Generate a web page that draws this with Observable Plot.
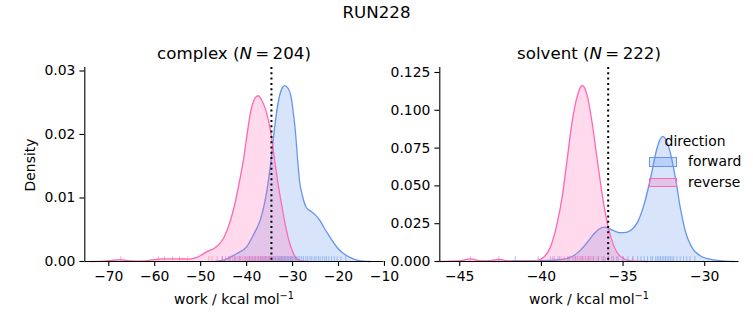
<!DOCTYPE html>
<html><head><meta charset="utf-8">
<script src="https://cdn.jsdelivr.net/npm/d3@7"></script>
<script src="https://cdn.jsdelivr.net/npm/@observablehq/plot@0.6"></script>
<style>
body{margin:0;background:#fff;}
#fig{position:relative;width:753px;height:325px;font-family:"DejaVu Sans",sans-serif;color:#000;overflow:hidden;background:#fff}
.abs{position:absolute;white-space:nowrap;line-height:1}
svg{position:absolute;top:0}
</style></head><body><div id="fig"></div>
<script>
// ---------- data ----------
const suptitle = "RUN228";
const directions = ["forward", "reverse"];
const colors = ["#6495ED", "#FF69B4"];

// complex leg: KDE curves [work, density]
const complexForward = [
  [-47,0],[-45,0.0002],[-43.5,0.0007],[-42,0.0013],[-40,0.0023],[-38.5,0.0042],[-37,0.0066],
  [-36,0.0095],[-35.3,0.0125],[-34.6,0.0164],[-34.0,0.0205],[-33.3,0.0243],[-32.6,0.0267],
  [-31.7,0.0277],[-31.0,0.0273],[-30.4,0.0262],[-29.9,0.0238],[-29.4,0.0206],[-28.9,0.0160],
  [-28.5,0.0128],[-27.8,0.0102],[-27.0,0.0085],[-26.0,0.0079],[-25.0,0.0073],[-24.0,0.0064],
  [-23.2,0.0054],[-22.0,0.0040],[-21.0,0.0029],[-20.3,0.0022],[-19.0,0.0013],[-17.4,0.0006],
  [-16.0,0.0002],[-14.5,0.00005],[-13,0]
];
const complexReverse = [
  [-74,0],[-71,0.00005],[-69,0.0002],[-67.5,0.00028],[-66,0.00012],[-64,0.00005],[-62,0.0001],
  [-60,0.0003],[-58,0.0004],[-55,0.0004],[-52.5,0.00038],[-51,0.0006],[-50,0.00095],[-48.5,0.0016],
  [-47,0.0021],[-46,0.0027],[-45,0.0037],[-44,0.0054],[-43,0.0078],[-42.4,0.0096],[-41.5,0.0128],
  [-40.6,0.0164],[-39.8,0.0205],[-39.2,0.0233],[-38.4,0.0254],[-37.5,0.0261],[-36.7,0.0254],
  [-35.9,0.0240],[-34.8,0.0206],[-33.7,0.0149],[-33.0,0.0115],[-32.3,0.0086],[-31.5,0.0055],
  [-30.8,0.0033],[-30.0,0.0016],[-29.4,0.0007],[-28.5,0.0002],[-27.5,0.00005],[-26.5,0]
];
const complexForwardRug = [-45.3,-43.8,-42.6,-41.5,-40.2,-39.4,-38.7,-38.1,-37.5,-37.0,-36.6,-36.2,-35.8,-35.3,-35.0,-34.6,-34.3,-34.0,-33.7,-33.4,-33.1,-32.9,-32.6,-32.4,-32.2,-31.9,-31.7,-31.5,-31.2,-31.0,-30.8,-30.5,-30.3,-30.0,-29.7,-29.4,-29.1,-28.8,-28.4,-28.0,-27.6,-27.1,-26.7,-26.2,-25.8,-25.3,-24.9,-24.4,-24.0,-23.5,-23.0,-22.6,-22.1,-21.5,-20.9,-20.3,-19.5,-18.4];
const complexReverseRug = [-67.4,-59.2,-57.9,-56.1,-54.6,-52.8,-48.2,-47.5,-46.4,-45.3,-44.6,-44.0,-43.5,-43.0,-42.5,-42.1,-41.7,-41.3,-40.9,-40.5,-40.2,-39.8,-39.5,-39.2,-38.9,-38.6,-38.3,-38.0,-37.7,-37.4,-37.1,-36.8,-36.5,-36.2,-35.9,-35.6,-35.3,-35.0,-34.6,-34.2,-33.8,-33.3,-32.8,-32.3,-31.7,-31.0,-30.4,-29.5];
const complexMark = -34.6;

// solvent leg
const solventForward = [
  [-43,0],[-42,0.0002],[-41.6,0.0005],[-41,0.0004],[-40.2,0.0006],[-39.5,0.0007],[-39,0.0010],
  [-38.5,0.0018],[-38,0.0040],[-37.6,0.0075],[-37.2,0.0125],[-36.8,0.0180],[-36.5,0.0212],
  [-36.1,0.0227],[-35.6,0.0205],[-35.2,0.0190],[-34.8,0.0192],[-34.5,0.0208],[-34.1,0.0262],
  [-33.7,0.0381],[-33.3,0.0558],[-32.9,0.0756],[-32.57,0.0827],[-32.2,0.0756],[-31.8,0.0558],
  [-31.5,0.0359],[-31.2,0.0205],[-30.8,0.0095],[-30.3,0.0040],[-29.5,0.0011],[-28.8,0.0003],[-28.2,0]
];
const solventReverse = [
  [-46.3,0],[-45.5,0.0002],[-44.8,0.0008],[-44.35,0.0018],[-43.9,0.0008],[-43.3,0.0004],
  [-42.6,0.0014],[-42.1,0.0005],[-41.5,0.0002],[-40.6,0.0003],[-40.2,0.0008],[-39.86,0.0028],
  [-39.45,0.0095],[-39.04,0.0249],[-38.73,0.0425],[-38.42,0.0675],[-38.12,0.0920],[-37.81,0.1090],
  [-37.5,0.1164],[-37.2,0.1100],[-37.0,0.0990],[-36.8,0.0849],[-36.6,0.0690],[-36.38,0.0518],
  [-36.08,0.0317],[-35.88,0.0214],[-35.57,0.0105],[-35.16,0.0034],[-34.6,0.0006],[-34,0.0001],[-33.5,0]
];
const solventForwardRug = [-41.6,-40.2,-39.3,-38.9,-38.3,-37.9,-37.5,-37.1,-36.8,-36.5,-36.2,-35.9,-35.6,-35.3,-35.0,-34.7,-34.4,-34.1,-33.9,-33.7,-33.5,-33.3,-33.2,-33.0,-32.9,-32.8,-32.7,-32.6,-32.5,-32.4,-32.3,-32.2,-32.1,-32.0,-31.9,-31.7,-31.5,-31.3,-31.1,-30.9,-30.6];
const solventReverseRug = [-44.35,-42.6,-39.45,-39.2,-39.0,-38.8,-38.6,-38.4,-38.3,-38.1,-38.0,-37.9,-37.8,-37.7,-37.6,-37.5,-37.4,-37.3,-37.2,-37.1,-37.0,-36.9,-36.8,-36.6,-36.5,-36.3,-36.1,-35.9,-35.7,-35.4,-35.0,-34.4];
const solventMark = -35.91;

// axes
const complexXTicks = [-70,-60,-50,-40,-30,-20,-10];
const complexYTicks = [0,0.01,0.02,0.03];
const solventXTicks = [-45,-40,-35,-30];
const solventYTicks = [0,0.025,0.05,0.075,0.1,0.125];
const panelTitles = [["complex", 204], ["solvent", 222]];

// ---------- drawing ----------
const fig = document.getElementById("fig");
const FS = 13.9;
const xfmt = d3.format("d");

function panel({left, width, mL, mR, xDomain, yDomain, xTicks, yTicks, yFmt, fwd, rev, fwdRug, revRug, mark}) {
  const rugH = yDomain[1] * 0.025;
  const curve = "monotone-x";
  const p = Plot.plot({
    width, height: 325, marginTop: 67, marginBottom: 64, marginLeft: mL, marginRight: mR,
    style: {fontFamily: "DejaVu Sans", fontSize: FS + "px", background: "transparent", overflow: "visible", color: "#000"},
    x: {domain: xDomain, axis: null},
    y: {domain: yDomain, axis: null},
    marks: [
      Plot.areaY(fwd, {x: d => d[0], y: d => d[1], fill: colors[0], fillOpacity: 0.25, curve}),
      Plot.lineY(fwd, {x: d => d[0], y: d => d[1], stroke: colors[0], strokeWidth: 1.3, curve}),
      Plot.areaY(rev, {x: d => d[0], y: d => d[1], fill: colors[1], fillOpacity: 0.25, curve}),
      Plot.lineY(rev, {x: d => d[0], y: d => d[1], stroke: colors[1], strokeWidth: 1.3, curve}),
      Plot.ruleX(fwdRug, {x: d => d, y1: 0, y2: rugH, stroke: colors[0], strokeOpacity: 0.55, strokeWidth: 1}),
      Plot.ruleX(revRug, {x: d => d, y1: 0, y2: rugH, stroke: colors[1], strokeOpacity: 0.55, strokeWidth: 1}),
      Plot.ruleX([mark], {stroke: "#000", strokeWidth: 2, strokeDasharray: "2,3.3"}),
      Plot.ruleY([yDomain[0]], {stroke: "#000", strokeWidth: 1.1}),
      Plot.ruleX([xDomain[0]], {stroke: "#000", strokeWidth: 1.1}),
      Plot.axisX(xTicks, {tickSize: 4.9, tickPadding: 4.5, tickFormat: xfmt, label: null, strokeWidth: 1.1}),
      Plot.axisY(yTicks, {tickSize: 4.9, tickPadding: 4.5, tickFormat: yFmt, label: null, strokeWidth: 1.1})
    ]
  });
  p.style.left = left + "px";
  fig.appendChild(p);
}

panel({left: 0, width: 400, mL: 84.3, mR: 16.5, xDomain: [-75.22, -10.1], yDomain: [0, 0.03055],
  xTicks: complexXTicks, yTicks: complexYTicks, yFmt: d3.format(".2f"),
  fwd: complexForward, rev: complexReverse, fwdRug: complexForwardRug, revRug: complexReverseRug, mark: complexMark});
panel({left: 400, width: 353, mL: 39.3, mR: 14.5, xDomain: [-46.22, -27.9], yDomain: [0, 0.1283],
  xTicks: solventXTicks, yTicks: solventYTicks, yFmt: d3.format(".3f"),
  fwd: solventForward, rev: solventReverse, fwdRug: solventForwardRug, revRug: solventReverseRug, mark: solventMark});

function text(html, x, y, size, extra = "") {
  const d = document.createElement("div");
  d.className = "abs";
  d.innerHTML = html;
  d.style.cssText += `left:${x}px;top:${y}px;font-size:${size}px;transform:translate(-50%,-50%) ${extra};`;
  fig.appendChild(d);
  return d;
}
text(suptitle, 376.5, 13, 16.67);
const centers = [234, 589];
panelTitles.forEach(([name, n], i) => text(`${name} (<i>N</i>&thinsp;=&thinsp;${n})`, centers[i], 54, 16.67));
centers.forEach(c => text(`work / kcal mol<sup style="font-size:0.7em;vertical-align:0.55em">−1</sup>`, c, 299, FS));
text("Density", 31, 165, FS, "rotate(-90deg)");

// legend (frameless, over the plot)
text("direction", 695, 142, FS);
directions.forEach((dname, i) => {
  const y = 162 + i * 20.6;
  const r = document.createElement("div");
  r.className = "abs";
  const c = d3.color(colors[i]); c.opacity = 0.25;
  r.style.cssText = `left:649.3px;top:${y - 4.7}px;width:27.4px;height:9.4px;box-sizing:border-box;background:${c.formatRgb()};border:1.1px solid ${colors[i]};`;
  fig.appendChild(r);
  const t = text(dname, 688, y, FS);
  t.style.transform = "translate(0,-50%)";
});
</script></body></html>
